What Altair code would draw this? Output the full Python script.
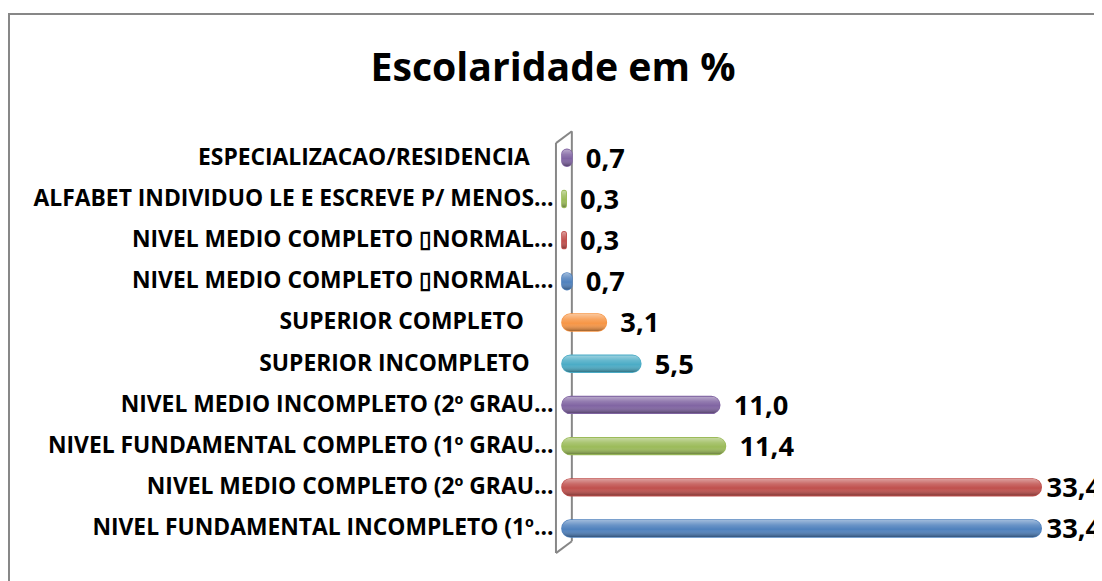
import altair as alt
import pandas as pd

NB = "\u00a0"
ZW = "\u200b"
categories = [
    "ESPECIALIZACAO/RESIDENCIA" + NB * 4 + ZW,
    "ALFABET INDIVIDUO LE E ESCREVE P/ MENOS…",
    "NIVEL MEDIO COMPLETO \u25afNORMAL…",
    "NIVEL MEDIO COMPLETO \u25afNORMAL…" + ZW,
    "SUPERIOR COMPLETO" + NB * 5 + ZW,
    "SUPERIOR INCOMPLETO" + NB * 4 + ZW,
    "NIVEL MEDIO INCOMPLETO (2º GRAU…",
    "NIVEL FUNDAMENTAL COMPLETO (1º GRAU…",
    "NIVEL MEDIO COMPLETO (2º GRAU…",
    "NIVEL FUNDAMENTAL INCOMPLETO (1º…",
]
values = [0.7, 0.3, 0.3, 0.7, 3.1, 5.5, 11.0, 11.4, 33.4, 33.4]
palette = ["#8064A2", "#9BBB59", "#C0504D", "#4F81BD", "#F79646",
           "#4BACC6", "#8064A2", "#9BBB59", "#C0504D", "#4F81BD"]
title_text = "Escolaridade em %"

W, H = 506, 415
PADL = 558
FONT = "Open Sans"
GRAY = "#878787"

df = pd.DataFrame({"cat": categories, "value": values})

xscale = alt.Scale(domain=[0, 35], nice=False, zero=True)
cscale = alt.Scale(domain=categories, range=palette)
yenc = alt.Y("cat:N", sort=categories,
             scale=alt.Scale(paddingInner=0, paddingOuter=0),
             axis=alt.Axis(title=None, domain=False, ticks=False, grid=False, labelPadding=9,
                           labelFont=FONT, labelFontWeight="bold", labelFontSize=23,
                           labelColor="black", labelLimit=0))

base = alt.Chart(df)

bars = base.mark_bar(size=17, cornerRadius=8.5, strokeWidth=1.5).encode(
    x=alt.X("value:Q", scale=xscale, axis=None),
    y=yenc,
    color=alt.Color("cat:N", scale=cscale, legend=None),
    stroke=alt.Stroke("cat:N", scale=cscale, legend=None),
)

shade = base.mark_bar(
    size=17, cornerRadius=8.5,
    color=alt.Gradient(
        gradient="linear", x1=0, x2=0, y1=0, y2=1,
        stops=[
            alt.GradientStop(color="rgba(255,255,255,0.45)", offset=0),
            alt.GradientStop(color="rgba(255,255,255,0.15)", offset=0.3),
            alt.GradientStop(color="rgba(255,255,255,0)", offset=0.55),
            alt.GradientStop(color="rgba(0,0,0,0.35)", offset=1),
        ],
    ),
).encode(x=alt.X("value:Q", scale=xscale, axis=None), y=yenc)

labels = base.transform_calculate(
    lbl="replace(format(datum.value, '.1f'), '.', ',')",
    pos="min(datum.value, 32.8)",
).mark_text(align="left", baseline="middle", dx=14, dy=2, font=FONT,
            fontWeight="bold", fontSize=27.5, color="black").encode(
    x=alt.X("pos:Q", scale=xscale, axis=None), y=yenc, text="lbl:N")

one = pd.DataFrame({"k": [0]})

frame = alt.Chart(one).mark_rect(filled=False, stroke=GRAY, strokeWidth=2).encode(
    x=alt.value(-(PADL - 1)), x2=alt.value(W + 200), y=alt.value(-124), y2=alt.value(H + 200))


def seg(x1, y1, x2, y2):
    return alt.Chart(one).mark_rule(color=GRAY, strokeWidth=2).encode(
        x=alt.value(x1), y=alt.value(y1), x2=alt.value(x2), y2=alt.value(y2))


wall = [seg(-6, 6, -6, 419), seg(10, -6, 10, 407), seg(-6, 6, 10, -6), seg(-6, 419, 10, 407)]

chart = alt.layer(frame, *wall, bars, shade, labels).properties(
    width=W, height=H,
    view=alt.ViewBackground(stroke="transparent", strokeWidth=0, fill="white"),
    title=alt.TitleParams(title_text, font=FONT, fontSize=39.5, fontWeight="bold",
                          color="black", anchor="middle", dx=-(PADL + W / 2 - 553) - 4,
                          offset=-108, baseline="alphabetic"),
    autosize=alt.AutoSizeParams(type="none"),
    padding={"left": PADL, "top": 128, "right": 1094 - PADL - W, "bottom": 30},
).configure_view(stroke="transparent", strokeWidth=0).configure(background="white")

chart.save("out.html", embed_options={"renderer": "svg", "actions": False})
